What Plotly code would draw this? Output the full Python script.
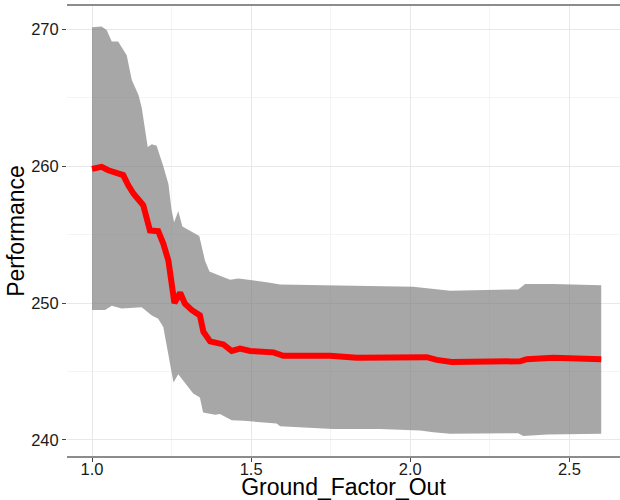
import plotly.graph_objects as go

# Upper bound of the band
upper_x = [1.000, 1.030, 1.046, 1.062, 1.082, 1.109, 1.125, 1.146, 1.156, 1.167,
           1.175, 1.188, 1.203, 1.214, 1.224, 1.240, 1.250, 1.258, 1.271, 1.284,
           1.313, 1.337, 1.355, 1.369, 1.402, 1.434, 1.460, 1.497, 1.554, 1.591,
           1.757, 2.009, 2.125, 2.339, 2.361, 2.449, 2.600]
upper_y = [270.15, 270.2, 269.95, 269.1, 269.1, 268.1, 266.3, 265.2, 264.3, 262.6,
           261.4, 261.6, 261.5, 260.7, 260.0, 258.7, 256.8, 255.9, 256.7, 255.6,
           255.2, 254.9, 253.1, 252.3, 252.0, 251.7, 251.8, 251.7, 251.5, 251.35,
           251.3, 251.2, 250.9, 251.0, 251.4, 251.4, 251.3]

# Lower bound of the band
lower_x = [1.000, 1.041, 1.062, 1.093, 1.156, 1.188, 1.208, 1.224, 1.240, 1.256,
           1.271, 1.292, 1.318, 1.339, 1.349, 1.387, 1.402, 1.439, 1.476, 1.580,
           1.591, 1.757, 1.905, 2.031, 2.072, 2.125, 2.339, 2.355, 2.430, 2.600]
lower_y = [249.5, 249.5, 249.8, 249.6, 249.7, 249.1, 248.85, 248.25, 246.3, 244.2,
           244.8, 244.2, 243.4, 243.1, 242.0, 241.85, 241.9, 241.45, 241.4, 241.2,
           241.0, 240.8, 240.8, 240.7, 240.56, 240.45, 240.5, 240.3, 240.4, 240.45]

# Mean performance line
mean_x = [1.000, 1.030, 1.051, 1.078, 1.098, 1.114, 1.130, 1.161, 1.172, 1.182,
          1.208, 1.224, 1.240, 1.248, 1.252, 1.259, 1.277, 1.292, 1.313, 1.339,
          1.350, 1.371, 1.413, 1.439, 1.465, 1.497, 1.570, 1.601, 1.748, 1.832,
          2.052, 2.083, 2.130, 2.272, 2.345, 2.366, 2.450, 2.600]
mean_y = [259.8, 259.95, 259.7, 259.5, 259.35, 258.6, 258.0, 257.15, 256.3, 255.3,
          255.25, 254.35, 253.1, 251.9, 250.8, 250.0, 250.75, 249.95, 249.5, 249.1,
          247.9, 247.2, 246.98, 246.5, 246.67, 246.5, 246.4, 246.15, 246.15, 246.0,
          246.05, 245.85, 245.7, 245.7, 245.75, 245.9, 246.0, 245.9]

x_ticks = [1.0, 1.5, 2.0, 2.5]
x_tick_labels = ["1.0", "1.5", "2.0", "2.5"]
y_ticks = [240, 250, 260, 270]
y_tick_labels = ["240", "250", "260", "270"]

fig = go.Figure()

fig.add_trace(go.Scatter(
    x=upper_x + lower_x[::-1],
    y=upper_y + lower_y[::-1],
    fill="toself",
    fillcolor="rgba(120,120,120,0.65)",
    line=dict(width=0),
    mode="lines",
    hoverinfo="skip",
    showlegend=False,
))

fig.add_trace(go.Scatter(
    x=mean_x, y=mean_y,
    mode="lines",
    line=dict(color="#ff0000", width=6),
    showlegend=False,
))

tick_font = dict(family="Liberation Sans, Arial, sans-serif", size=16.5, color="#1a1a1a")
title_font = dict(family="Liberation Sans, Arial, sans-serif", size=23, color="#000000")

fig.update_layout(
    width=620, height=500,
    margin=dict(l=67, r=0, t=6, b=44),
    paper_bgcolor="white",
    plot_bgcolor="white",
    showlegend=False,
)

fig.update_xaxes(
    range=[0.9214, 2.659],
    tickvals=x_ticks, ticktext=x_tick_labels,
    tickfont=tick_font,
    ticks="outside", ticklen=4, tickcolor="#444444", tickwidth=1,
    ticklabelstandoff=-7,
    showgrid=True, gridcolor="#e8e8e8", gridwidth=1,
    minor=dict(dtick=0.25, tick0=1.0, showgrid=True, gridcolor="#f4f4f4", gridwidth=1, ticks=""),
    showline=True, linecolor="#8c8c8c", linewidth=1.5, mirror=True,
    zeroline=False,
    title=dict(text="Ground_Factor_Out", font=title_font, standoff=0),
    automargin=False,
)

fig.update_yaxes(
    range=[238.83, 271.7],
    tickvals=y_ticks, ticktext=y_tick_labels,
    tickfont=tick_font,
    ticks="outside", ticklen=4, tickcolor="#444444", tickwidth=1,
    showgrid=True, gridcolor="#e8e8e8", gridwidth=1,
    minor=dict(dtick=5, tick0=240, showgrid=True, gridcolor="#f4f4f4", gridwidth=1, ticks=""),
    showline=False,
    zeroline=False,
    title=dict(text="Performance", font=title_font, standoff=0),
    automargin=False,
)

fig.write_html("out.html", config={"displayModeBar": False},
               post_script="document.body.style.margin='0px';")
